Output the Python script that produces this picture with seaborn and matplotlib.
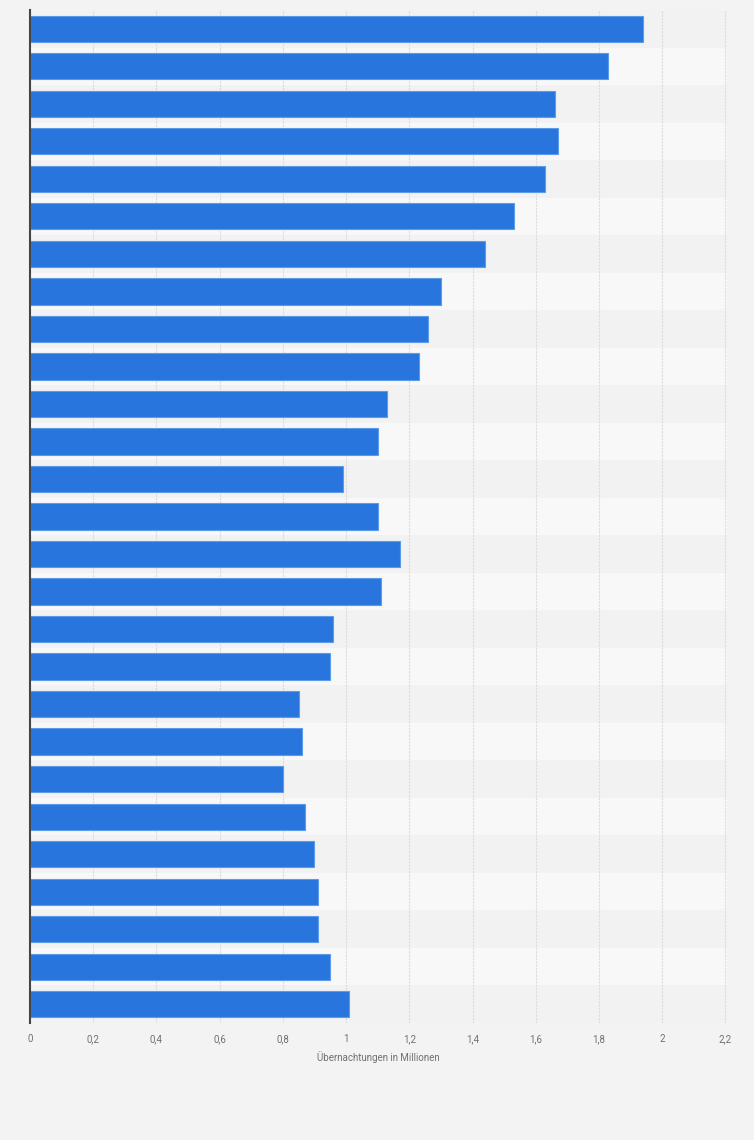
import matplotlib
matplotlib.use("Agg")
import matplotlib.pyplot as plt
import seaborn as sns
import pandas as pd

# data (category labels are not shown in the chart)
categories = [str(y) for y in range(1993, 2020)]
values = [1.94, 1.83, 1.66, 1.67, 1.63, 1.53, 1.44, 1.30, 1.26, 1.23,
          1.13, 1.10, 0.99, 1.10, 1.17, 1.11, 0.96, 0.95, 0.85, 0.86,
          0.80, 0.87, 0.90, 0.91, 0.91, 0.95, 1.01]
x_ticks = [0, 0.2, 0.4, 0.6, 0.8, 1.0, 1.2, 1.4, 1.6, 1.8, 2.0, 2.2]
x_tick_labels = ["0", "0,2", "0,4", "0,6", "0,8", "1", "1,2", "1,4",
                 "1,6", "1,8", "2", "2,2"]
x_label = "Übernachtungen in Millionen"

df = pd.DataFrame({"cat": categories, "val": values})

sns.set_style("white")
plt.rcParams["font.family"] = ["Roboto", "DejaVu Sans"]

fig = plt.figure(figsize=(7.54, 11.4), dpi=100, facecolor="#f3f3f3")
ax = fig.add_axes([30 / 754, 1 - 1023 / 1140, 697 / 754, 1013 / 1140])
ax.set_facecolor("#f2f2f2")

# alternating light bands behind every other category
for i in range(len(categories)):
    if i % 2 == 1:
        ax.axhspan(i - 0.5, i + 0.5, color="#f8f8f8", zorder=0, lw=0)

sns.barplot(data=df, x="val", y="cat", orient="h", color="#2876dd",
            saturation=1, width=0.7, edgecolor="#5b9be9", linewidth=0.8,
            ax=ax, zorder=3)

ax.set_xlim(0, 2.205)
ax.set_ylim(len(categories) - 0.5, -0.5)
ax.set_xticks(x_ticks)
ax.set_xticklabels(x_tick_labels, fontsize=7, color="#707070")
ax.set_yticks([])
ax.set_ylabel("")
ax.set_xlabel(x_label, fontsize=7, color="#707070", labelpad=5)
ax.tick_params(axis="x", length=0, pad=8)

ax.grid(axis="x", color="#dcdcdc", linestyle=(0, (2, 1)), linewidth=0.8, zorder=1)
ax.set_axisbelow(True)

for side in ["top", "right", "bottom"]:
    ax.spines[side].set_visible(False)
ax.spines["left"].set_color("#444444")
ax.spines["left"].set_linewidth(1.5)
ax.spines["left"].set_zorder(5)

fig.savefig("out.png", dpi=100, facecolor=fig.get_facecolor())
